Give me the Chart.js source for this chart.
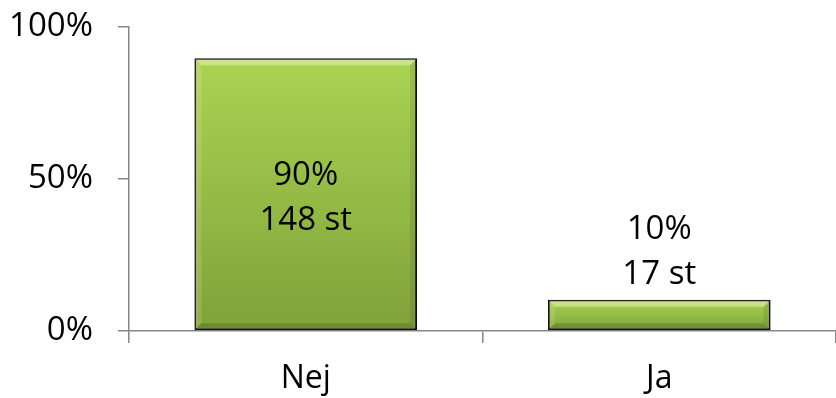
<!DOCTYPE html>
<html>
<head>
<meta charset="utf-8">
<script src="https://cdn.jsdelivr.net/npm/chart.js@4"></script>
<style>
  html, body { margin: 0; padding: 0; background: #fff; }
  #wrap { width: 836px; height: 398px; }
</style>
</head>
<body>
<div id="wrap"><canvas id="chart"></canvas></div>
<script>
// values
const categories = ['Nej', 'Ja'];
const percentValues = [89.7, 10.3];
const counts = [148, 17];
const yTicks = [0, 50, 100];

const FONT = '"Open Sans", "Liberation Sans", sans-serif';

// soft bevel on each bar, like the office chart style
const barBevel = {
  id: 'barBevel',
  afterDatasetsDraw(chart) {
    const ctx = chart.ctx;
    const b = 6;
    ctx.save();
    chart.getDatasetMeta(0).data.forEach((bar) => {
      const l = bar.x - bar.width / 2 + 1, r = bar.x + bar.width / 2 - 1;
      const t = bar.y + 1, btm = bar.base - 1;
      const poly = (pts, color) => {
        ctx.beginPath();
        ctx.moveTo(pts[0][0], pts[0][1]);
        pts.slice(1).forEach(p => ctx.lineTo(p[0], p[1]));
        ctx.closePath();
        ctx.fillStyle = color;
        ctx.fill();
      };
      poly([[l, t], [r, t], [r - b, t + b], [l + b, t + b]], 'rgba(255,255,220,0.4)');
      poly([[l, t], [l + b, t + b], [l + b, btm - b], [l, btm]], 'rgba(255,255,220,0.15)');
      poly([[r, t], [r, btm], [r - b, btm - b], [r - b, t + b]], 'rgba(40,60,0,0.12)');
      poly([[l, btm], [r, btm], [r - b, btm - b], [l + b, btm - b]], 'rgba(40,60,0,0.22)');
    });
    ctx.restore();
  }
};

// bar value labels: inside the tall bar, above the short one
const barLabels = {
  id: 'barLabels',
  afterDatasetsDraw(chart) {
    const ctx = chart.ctx;
    const meta = chart.getDatasetMeta(0);
    ctx.save();
    ctx.font = '33px ' + FONT;
    ctx.fillStyle = '#000';
    ctx.textAlign = 'center';
    ctx.textBaseline = 'middle';
    meta.data.forEach((bar, i) => {
      const lines = [Math.round(percentValues[i]) + '%', counts[i] + ' st'];
      const h = bar.base - bar.y;
      let y1;
      if (h > 120) {
        y1 = (bar.y + bar.base) / 2 - 19;
      } else {
        y1 = bar.y - 70;
      }
      ctx.fillText(lines[0], bar.x, y1);
      ctx.fillText(lines[1], bar.x, y1 + 45);
    });
    ctx.restore();
  }
};

new Chart(document.getElementById('chart'), {
  type: 'bar',
  data: {
    labels: categories,
    datasets: [{
      data: percentValues,
      backgroundColor: (c) => {
        const chart = c.chart;
        const ys = chart.scales.y;
        if (!chart.chartArea || !ys || c.raw === undefined) return '#9bc145';
        const top = ys.getPixelForValue(c.raw);
        const bottom = ys.getPixelForValue(0);
        const g = chart.ctx.createLinearGradient(0, top, 0, bottom);
        g.addColorStop(0, '#aad452');
        g.addColorStop(1, '#7fa23a');
        return g;
      },
      borderColor: '#111',
      borderWidth: 2,
      borderSkipped: false,
      barPercentage: 0.63,
      categoryPercentage: 1
    }]
  },
  options: {
    responsive: true,
    maintainAspectRatio: false,
    animation: false,
    layout: { padding: { top: 27, right: 0, bottom: 0, left: 0 } },
    plugins: {
      legend: { display: false },
      tooltip: { enabled: false }
    },
    scales: {
      x: {
        afterFit: (axis) => { axis.height = 67; },
        grid: {
          display: true,
          drawOnChartArea: false,
          drawTicks: true,
          tickLength: 12,
          color: '#878787',
          lineWidth: 1.5
        },
        border: { color: '#878787', width: 1.5 },
        ticks: { color: '#000', font: { size: 32, family: FONT }, padding: 17 }
      },
      y: {
        min: 0,
        max: 100,
        afterBuildTicks: (axis) => { axis.ticks = yTicks.map(v => ({ value: v })); },
        afterFit: (axis) => {
          axis.width = 129;
          axis.paddingTop = 0;
          axis.paddingBottom = 0;
        },
        grid: {
          display: true,
          drawOnChartArea: false,
          drawTicks: true,
          tickLength: 11,
          color: '#878787',
          lineWidth: 1.5
        },
        border: { color: '#878787', width: 1.5 },
        ticks: {
          color: '#000',
          font: { size: 33, family: FONT },
          padding: 25,
          callback: (v) => v + '%'
        }
      }
    }
  },
  plugins: [barBevel, barLabels]
});
</script>
</body>
</html>
